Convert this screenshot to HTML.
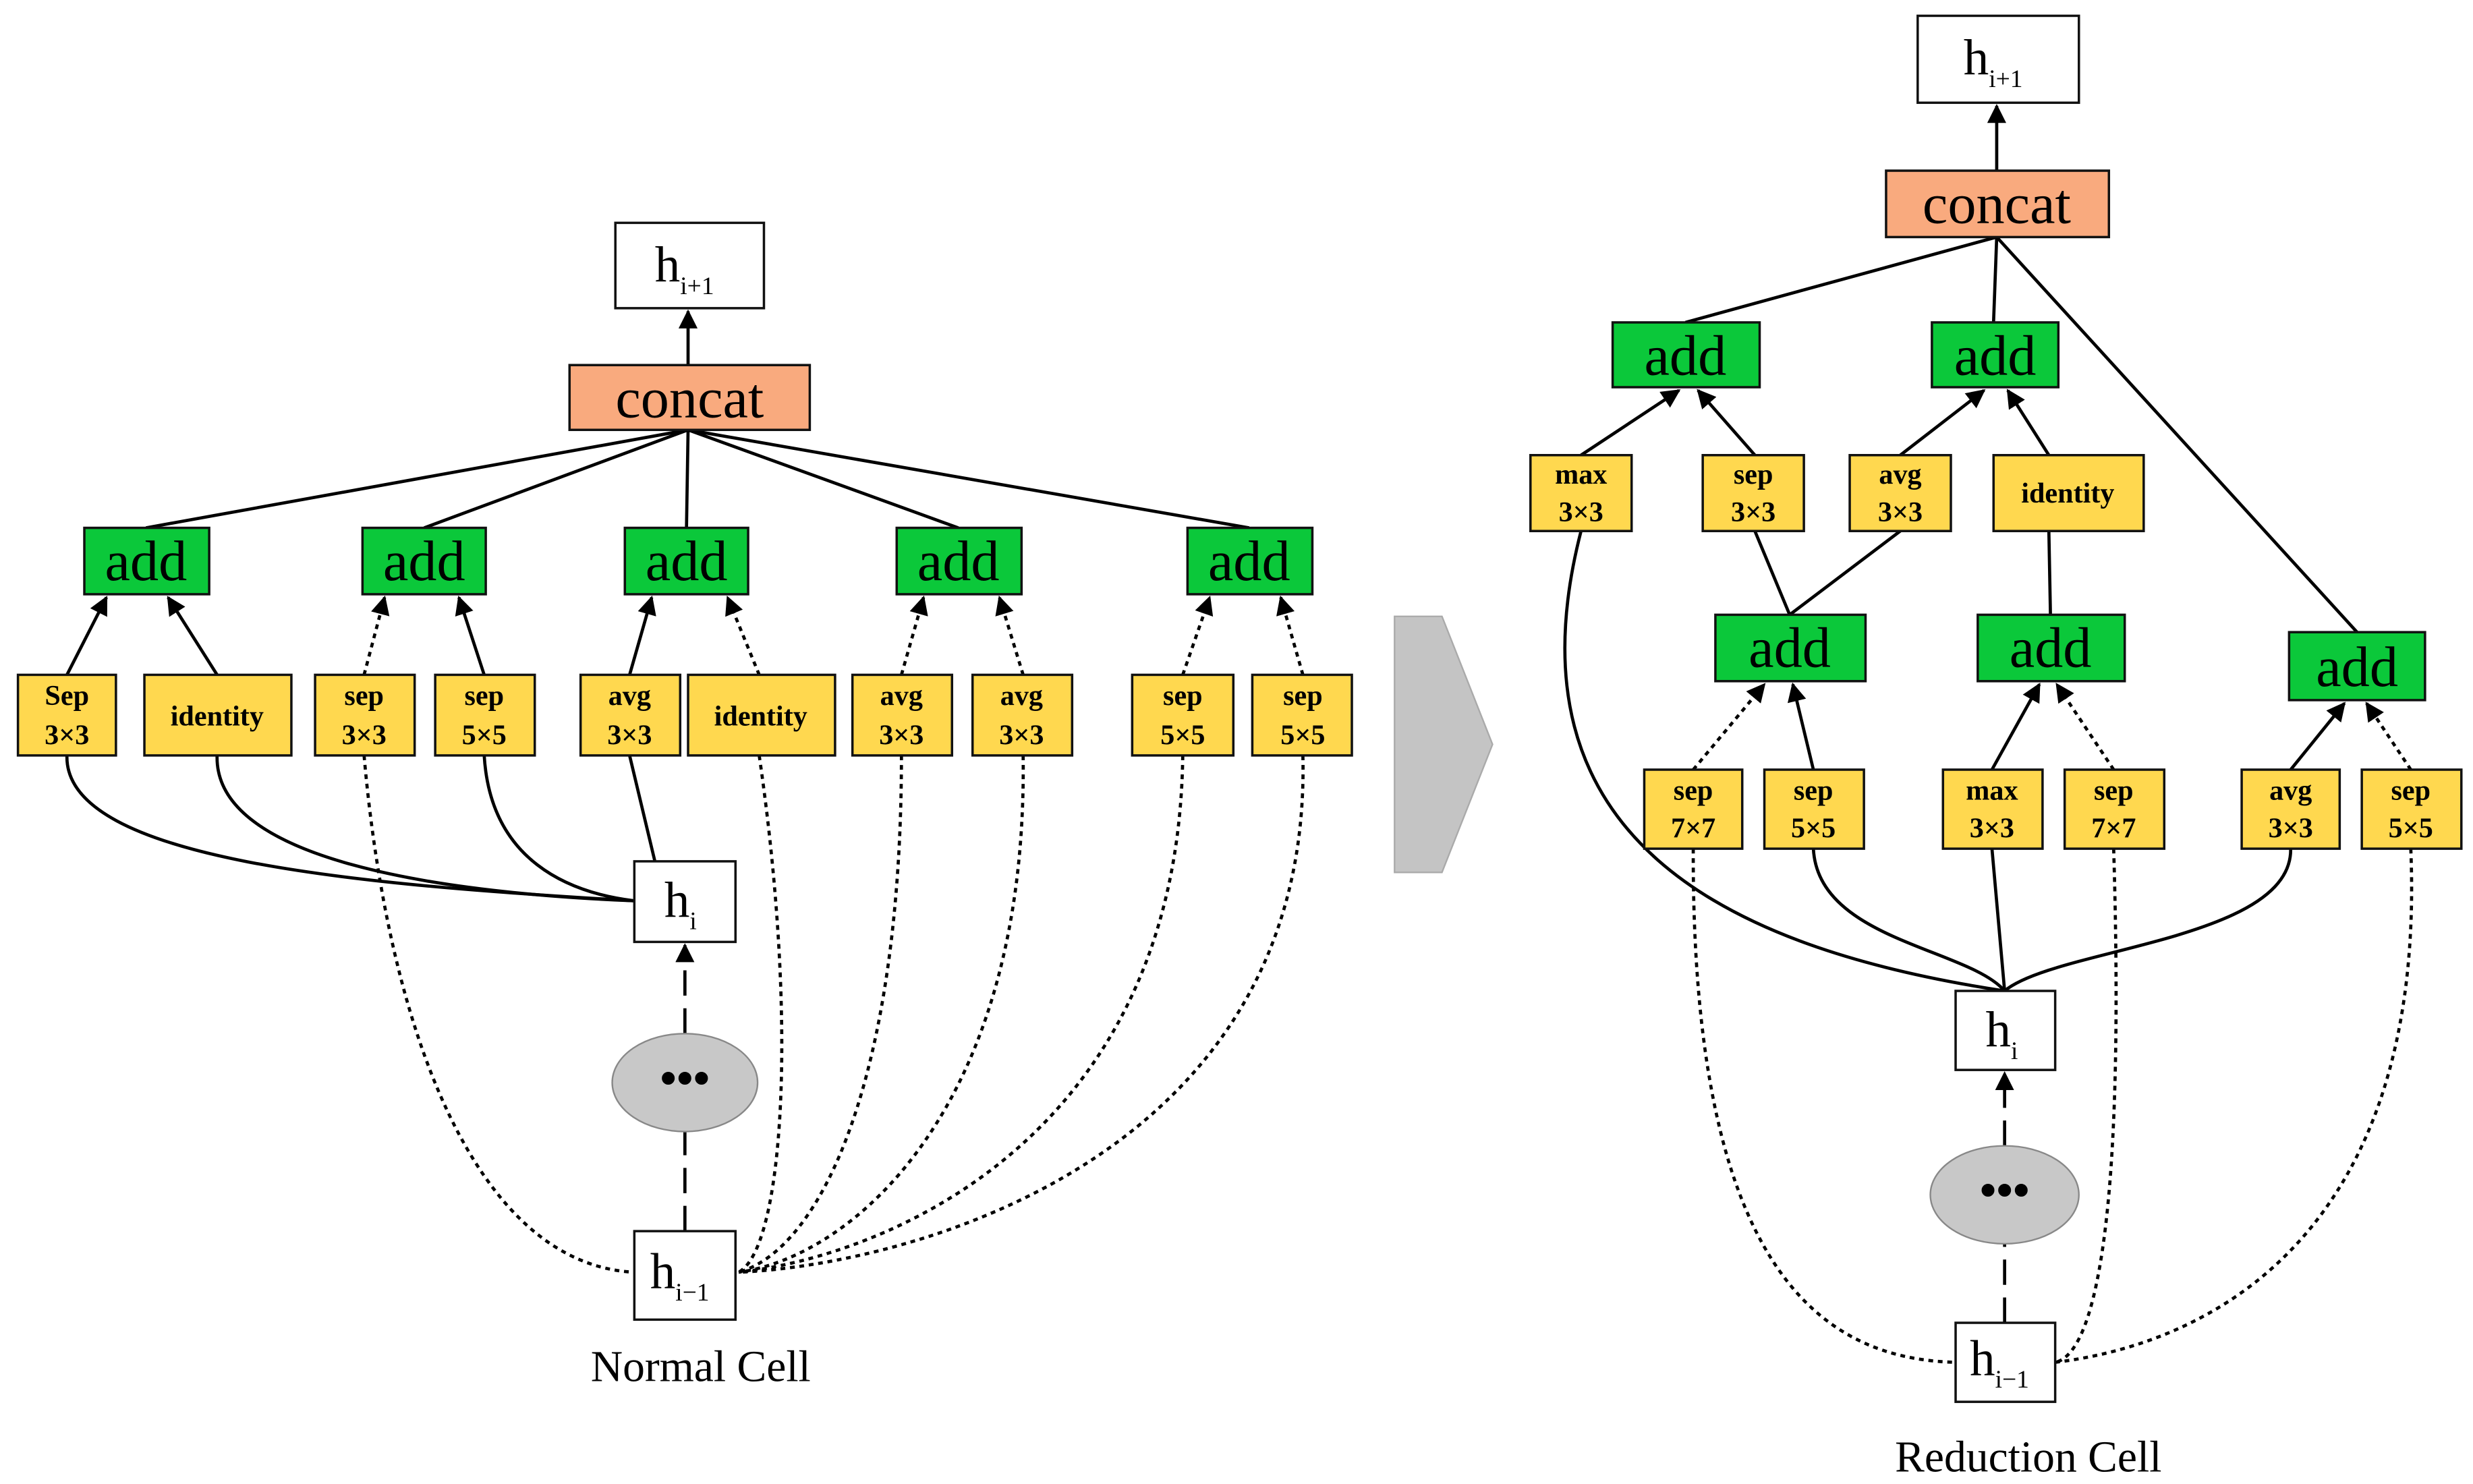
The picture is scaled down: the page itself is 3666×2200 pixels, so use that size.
<!DOCTYPE html>
<html><head><meta charset="utf-8"><style>
html,body{margin:0;padding:0;background:#fff;}
svg{display:block;}
text{font-family:"Liberation Serif",serif;}
.y{fill:#FFD84F;stroke:#111;stroke-width:1.5}
.g{fill:#0BC83A;stroke:#111;stroke-width:1.5}
.w{fill:#fff;stroke:#111;stroke-width:1.5}
.c{fill:#F9AA7E;stroke:#111;stroke-width:1.5}
.l{fill:none;stroke:#000;stroke-width:2}
.d{fill:none;stroke:#000;stroke-width:2;stroke-dasharray:3,3}
.ld{fill:none;stroke:#000;stroke-width:2;stroke-dasharray:16,8}
.yt{font-weight:bold;font-size:18px;text-anchor:middle}
.at{font-size:36px;text-anchor:middle}
</style></head><body>
<svg width="3666" height="2200" viewBox="0 0 1564 939" xmlns="http://www.w3.org/2000/svg">
<defs><marker id="a" viewBox="0 0 10 10" refX="9" refY="5" markerWidth="6" markerHeight="6" orient="auto-start-reverse"><path d="M0,0 L10,5 L0,10 z" fill="#000"/></marker></defs>

<!-- LEFT CELL -->
<line class="l" x1="435" y1="231" x2="435" y2="197" marker-end="url(#a)"/>
<g class="l">
<line x1="435" y1="272" x2="92" y2="334"/><line x1="435" y1="272" x2="268" y2="334"/>
<line x1="435" y1="272" x2="434" y2="334"/><line x1="435" y1="272" x2="606" y2="334"/>
<line x1="435" y1="272" x2="790" y2="334"/></g>
<line class="l" x1="42" y1="427" x2="67" y2="378" marker-end="url(#a)"/>
<line class="l" x1="137" y1="427" x2="106" y2="378" marker-end="url(#a)"/>
<line class="d" x1="230" y1="427" x2="243" y2="378" marker-end="url(#a)"/>
<line class="l" x1="306" y1="427" x2="290" y2="378" marker-end="url(#a)"/>
<line class="l" x1="398" y1="427" x2="412" y2="378" marker-end="url(#a)"/>
<line class="d" x1="480" y1="427" x2="460" y2="378" marker-end="url(#a)"/>
<line class="d" x1="570" y1="427" x2="584" y2="378" marker-end="url(#a)"/>
<line class="d" x1="647" y1="427" x2="632" y2="378" marker-end="url(#a)"/>
<line class="d" x1="748" y1="427" x2="765" y2="378" marker-end="url(#a)"/>
<line class="d" x1="824" y1="427" x2="810" y2="378" marker-end="url(#a)"/>
<path class="l" d="M42,478 C40,545 230,560 401,570"/>
<path class="l" d="M137,478 C135,545 280,565 401,570"/>
<path class="l" d="M306,478 C310,545 360,565 401,570"/>
<line class="l" x1="398" y1="478" x2="414" y2="545"/>
<path class="d" d="M230,478 C245,650 300,800 401,805"/>
<path class="d" d="M480,478 C505,650 495,790 467,805"/>
<path class="d" d="M570,478 C570,680 520,790 467,805"/>
<path class="d" d="M647,478 C650,700 540,795 467,805"/>
<path class="d" d="M748,478 C745,720 560,795 467,805"/>
<path class="d" d="M824,478 C830,730 580,800 467,805"/>
<line class="ld" x1="433" y1="779" x2="433" y2="716"/>
<line class="ld" x1="433" y1="654" x2="433" y2="598" marker-end="url(#a)"/>

<rect class="w" x="389" y="141" width="94" height="54"/>
<text x="414" y="178" font-size="32">h<tspan font-size="16" dy="8">i+1</tspan></text>
<rect class="c" x="360" y="231" width="152" height="41"/>
<text x="436" y="264" class="at">concat</text>
<g>
<rect class="g" x="53" y="334" width="79" height="42"/><text x="92" y="367" class="at">add</text>
<rect class="g" x="229" y="334" width="78" height="42"/><text x="268" y="367" class="at">add</text>
<rect class="g" x="395" y="334" width="78" height="42"/><text x="434" y="367" class="at">add</text>
<rect class="g" x="567" y="334" width="79" height="42"/><text x="606" y="367" class="at">add</text>
<rect class="g" x="751" y="334" width="79" height="42"/><text x="790" y="367" class="at">add</text>
</g>
<g>
<rect class="y" x="11" y="427" width="62" height="51"/><text class="yt" x="42" y="446">Sep</text><text class="yt" x="42" y="471">3×3</text>
<rect class="y" x="91" y="427" width="93" height="51"/><text class="yt" x="137" y="459">identity</text>
<rect class="y" x="199" y="427" width="63" height="51"/><text class="yt" x="230" y="446">sep</text><text class="yt" x="230" y="471">3×3</text>
<rect class="y" x="275" y="427" width="63" height="51"/><text class="yt" x="306" y="446">sep</text><text class="yt" x="306" y="471">5×5</text>
<rect class="y" x="367" y="427" width="63" height="51"/><text class="yt" x="398" y="446">avg</text><text class="yt" x="398" y="471">3×3</text>
<rect class="y" x="435" y="427" width="93" height="51"/><text class="yt" x="481" y="459">identity</text>
<rect class="y" x="539" y="427" width="63" height="51"/><text class="yt" x="570" y="446">avg</text><text class="yt" x="570" y="471">3×3</text>
<rect class="y" x="615" y="427" width="63" height="51"/><text class="yt" x="646" y="446">avg</text><text class="yt" x="646" y="471">3×3</text>
<rect class="y" x="716" y="427" width="64" height="51"/><text class="yt" x="748" y="446">sep</text><text class="yt" x="748" y="471">5×5</text>
<rect class="y" x="792" y="427" width="63" height="51"/><text class="yt" x="824" y="446">sep</text><text class="yt" x="824" y="471">5×5</text>
</g>
<rect class="w" x="401" y="545" width="64" height="51"/>
<text x="420" y="580" font-size="32">h<tspan font-size="16" dy="8">i</tspan></text>
<ellipse cx="433" cy="685" rx="46" ry="31" fill="#C8C8C8" stroke="#888" stroke-width="1"/>
<text x="433" y="692" font-size="30" font-weight="bold" text-anchor="middle">•••</text>
<rect class="w" x="401" y="779" width="64" height="56"/>
<text x="411" y="815" font-size="32">h<tspan font-size="16" dy="8">i−1</tspan></text>
<text x="443" y="874" font-size="28" text-anchor="middle">Normal Cell</text>

<!-- ARROW -->
<polygon points="882,390 912,390 944,471 912,552 882,552" fill="#C4C4C4" stroke="#aaa" stroke-width="1"/>

<!-- RIGHT CELL -->
<line class="l" x1="1263" y1="108" x2="1263" y2="67" marker-end="url(#a)"/>
<line class="l" x1="1263" y1="150" x2="1066" y2="204"/>
<line class="l" x1="1263" y1="150" x2="1261" y2="204"/>
<line class="l" x1="1263" y1="150" x2="1491" y2="400"/>
<line class="l" x1="1000" y1="288" x2="1062" y2="247" marker-end="url(#a)"/>
<line class="l" x1="1110" y1="288" x2="1074" y2="247" marker-end="url(#a)"/>
<line class="l" x1="1202" y1="288" x2="1255" y2="247" marker-end="url(#a)"/>
<line class="l" x1="1296" y1="288" x2="1270" y2="247" marker-end="url(#a)"/>
<line class="l" x1="1132" y1="389" x2="1110" y2="336"/>
<line class="l" x1="1132" y1="389" x2="1202" y2="336"/>
<line class="l" x1="1297" y1="389" x2="1296" y2="336"/>
<line class="d" x1="1071" y1="487" x2="1116" y2="433" marker-end="url(#a)"/>
<line class="l" x1="1147" y1="487" x2="1134" y2="433" marker-end="url(#a)"/>
<line class="l" x1="1260" y1="487" x2="1290" y2="433" marker-end="url(#a)"/>
<line class="d" x1="1337" y1="487" x2="1301" y2="433" marker-end="url(#a)"/>
<line class="l" x1="1449" y1="487" x2="1483" y2="445" marker-end="url(#a)"/>
<line class="d" x1="1525" y1="487" x2="1497" y2="445" marker-end="url(#a)"/>
<path class="l" d="M1000,336 C950,530 1090,600 1268,627"/>
<path class="l" d="M1147,537 C1150,595 1245,600 1268,627"/>
<line class="l" x1="1260" y1="537" x2="1268" y2="627"/>
<path class="l" d="M1449,537 C1450,595 1300,600 1268,627"/>
<path class="d" d="M1071,537 C1070,800 1150,860 1237,862"/>
<path class="d" d="M1337,537 C1345,800 1320,858 1300,862"/>
<path class="d" d="M1525,537 C1535,780 1400,850 1300,862"/>
<line class="ld" x1="1268" y1="837" x2="1268" y2="787"/>
<line class="ld" x1="1268" y1="725" x2="1268" y2="679" marker-end="url(#a)"/>

<rect class="w" x="1213" y="10" width="102" height="55"/>
<text x="1242" y="47" font-size="32">h<tspan font-size="16" dy="8">i+1</tspan></text>
<rect class="c" x="1193" y="108" width="141" height="42"/>
<text x="1263" y="141" class="at">concat</text>
<rect class="g" x="1020" y="204" width="93" height="41"/><text x="1066" y="237" class="at">add</text>
<rect class="g" x="1222" y="204" width="80" height="41"/><text x="1262" y="237" class="at">add</text>
<rect class="g" x="1085" y="389" width="95" height="42"/><text x="1132" y="422" class="at">add</text>
<rect class="g" x="1251" y="389" width="93" height="42"/><text x="1297" y="422" class="at">add</text>
<rect class="g" x="1448" y="400" width="86" height="43"/><text x="1491" y="434" class="at">add</text>
<rect class="y" x="968" y="288" width="64" height="48"/><text class="yt" x="1000" y="306">max</text><text class="yt" x="1000" y="330">3×3</text>
<rect class="y" x="1077" y="288" width="64" height="48"/><text class="yt" x="1109" y="306">sep</text><text class="yt" x="1109" y="330">3×3</text>
<rect class="y" x="1170" y="288" width="64" height="48"/><text class="yt" x="1202" y="306">avg</text><text class="yt" x="1202" y="330">3×3</text>
<rect class="y" x="1261" y="288" width="95" height="48"/><text class="yt" x="1308" y="318">identity</text>
<rect class="y" x="1040" y="487" width="62" height="50"/><text class="yt" x="1071" y="506">sep</text><text class="yt" x="1071" y="530">7×7</text>
<rect class="y" x="1116" y="487" width="63" height="50"/><text class="yt" x="1147" y="506">sep</text><text class="yt" x="1147" y="530">5×5</text>
<rect class="y" x="1229" y="487" width="63" height="50"/><text class="yt" x="1260" y="506">max</text><text class="yt" x="1260" y="530">3×3</text>
<rect class="y" x="1306" y="487" width="63" height="50"/><text class="yt" x="1337" y="506">sep</text><text class="yt" x="1337" y="530">7×7</text>
<rect class="y" x="1418" y="487" width="62" height="50"/><text class="yt" x="1449" y="506">avg</text><text class="yt" x="1449" y="530">3×3</text>
<rect class="y" x="1494" y="487" width="63" height="50"/><text class="yt" x="1525" y="506">sep</text><text class="yt" x="1525" y="530">5×5</text>
<rect class="w" x="1237" y="627" width="63" height="50"/>
<text x="1256" y="662" font-size="32">h<tspan font-size="16" dy="8">i</tspan></text>
<ellipse cx="1268" cy="756" rx="47" ry="31" fill="#C8C8C8" stroke="#888" stroke-width="1"/>
<text x="1268" y="763" font-size="30" font-weight="bold" text-anchor="middle">•••</text>
<rect class="w" x="1237" y="837" width="63" height="50"/>
<text x="1246" y="870" font-size="32">h<tspan font-size="16" dy="8">i−1</tspan></text>
<text x="1283" y="931" font-size="28" text-anchor="middle">Reduction Cell</text>
</svg>
</body></html>
